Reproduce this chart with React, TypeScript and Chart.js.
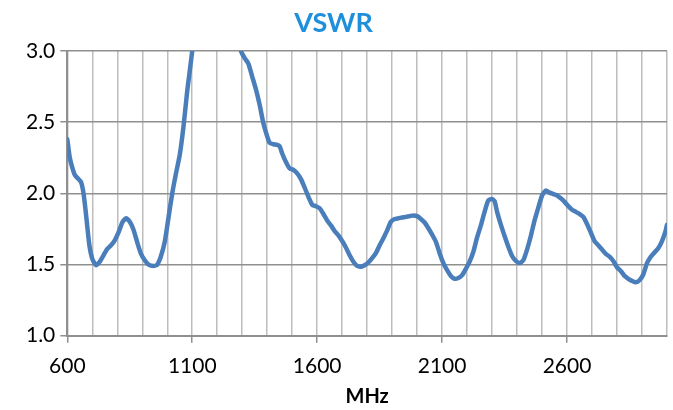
import React, { useEffect, useRef } from "react";
import { Chart, registerables } from "chart.js";

Chart.register(...registerables);

const titleText = "VSWR";
const xTitle = "MHz";
const yTicks = [1.0, 1.5, 2.0, 2.5, 3.0];
const xLabelValues = [600, 1100, 1600, 2100, 2600];

const freqMHz = [
  600, 610, 620, 630, 645, 655, 665, 675, 688, 700, 715, 730, 745, 760, 775, 790, 805, 820, 835, 850,
  865, 880, 895, 910, 925, 945, 960, 975, 990, 1005, 1020, 1035, 1050, 1065, 1080, 1100, 1130, 1170,
  1200, 1240, 1270, 1285, 1295, 1310, 1325, 1340, 1355, 1370, 1385, 1400, 1410, 1425, 1440, 1450,
  1460, 1475, 1490, 1505, 1520, 1535, 1550, 1565, 1580, 1595, 1610, 1625, 1640, 1655, 1670, 1685,
  1700, 1715, 1730, 1745, 1760, 1775, 1790, 1805, 1820, 1835, 1850, 1865, 1880, 1895, 1910, 1925,
  1940, 1955, 1970, 1985, 2000, 2015, 2030, 2045, 2060, 2075, 2090, 2105, 2120, 2135, 2150, 2165,
  2180, 2195, 2210, 2225, 2240, 2255, 2270, 2285, 2300, 2310, 2320, 2335, 2350, 2365, 2380, 2395,
  2410, 2425, 2440, 2455, 2470, 2485, 2500, 2515, 2530, 2545, 2560, 2575, 2590, 2605, 2620, 2635,
  2650, 2665, 2680, 2695, 2710, 2725, 2740, 2755, 2770, 2785, 2800, 2815, 2830, 2845, 2860, 2875,
  2890, 2905, 2920, 2935, 2950, 2965, 2980, 2995, 3000,
];

const vswr = [
  2.38, 2.25, 2.18, 2.13, 2.1, 2.08, 2.0, 1.85, 1.64, 1.54, 1.495, 1.52, 1.565, 1.61, 1.635, 1.67, 1.725, 1.795, 1.825, 1.8,
  1.745, 1.655, 1.575, 1.53, 1.5, 1.49, 1.5, 1.56, 1.66, 1.83, 2.0, 2.14, 2.27, 2.47, 2.72, 3.0, 3.5, 3.9,
  4.0, 3.7, 3.3, 3.1, 3.0, 2.95, 2.91, 2.82, 2.73, 2.62, 2.49, 2.4, 2.355, 2.345, 2.34, 2.33,
  2.28, 2.22, 2.175, 2.165, 2.14, 2.1, 2.04, 1.975, 1.92, 1.91, 1.895, 1.855, 1.81, 1.775, 1.735, 1.705,
  1.665, 1.62, 1.565, 1.52, 1.49, 1.485, 1.495, 1.515, 1.545, 1.58, 1.635, 1.685, 1.74, 1.8, 1.82, 1.825,
  1.83, 1.835, 1.84, 1.845, 1.84, 1.82, 1.795, 1.755, 1.71, 1.66, 1.58, 1.51, 1.46, 1.42, 1.4, 1.405,
  1.425, 1.47, 1.52, 1.59, 1.69, 1.775, 1.87, 1.95, 1.96, 1.945, 1.87, 1.78, 1.7, 1.625, 1.56, 1.525,
  1.51, 1.53, 1.605, 1.7, 1.81, 1.9, 1.985, 2.02, 2.005, 1.995, 1.985, 1.965, 1.94, 1.91, 1.885, 1.87,
  1.855, 1.835, 1.785, 1.725, 1.665, 1.635, 1.605, 1.575, 1.555, 1.525, 1.48, 1.455, 1.42, 1.4, 1.385, 1.375,
  1.39, 1.43, 1.51, 1.555, 1.585, 1.615, 1.665, 1.74, 1.78,
];

const FONT = "Lato, 'Open Sans', sans-serif";

export default function App() {
  const ref = useRef<HTMLCanvasElement | null>(null);

  useEffect(() => {
    if (!ref.current) return;
    const points = freqMHz.map((f, i) => ({ x: f, y: vswr[i] }));
    const chart = new Chart(ref.current, {
      type: "line",
      data: {
        datasets: [
          {
            data: points,
            borderColor: "#4a7ebb",
            borderWidth: 4.5,
            pointRadius: 0,
            tension: 0.2,
            clip: 0,
            borderJoinStyle: "round",
            borderCapStyle: "round",
          },
        ],
      },
      options: {
        animation: false,
        responsive: false,
        layout: { padding: { left: 0, right: 6, top: 0, bottom: 0 } },
        plugins: {
          legend: { display: false },
          tooltip: { enabled: false },
          title: {
            display: true,
            text: titleText,
            color: "#1f8fdb",
            font: { family: FONT, size: 27, weight: "bold", lineHeight: 1.2 },
            padding: { top: 7, bottom: 11.6 },
          },
        },
        scales: {
          x: {
            type: "linear",
            min: 600,
            max: 3000,
            afterFit: (s: any) => {
              s.height = 74.3;
              s.paddingRight = 0;
            },
            ticks: {
              stepSize: 100,
              autoSkip: false,
              maxRotation: 0,
              padding: 11,
              color: "#000",
              font: { family: FONT, size: 21 },
              callback: (v: any) => (xLabelValues.includes(Number(v)) ? String(v) : ""),
            },
            grid: {
              color: "#bdbdbd",
              lineWidth: 1.5,
              drawTicks: true,
              tickLength: 7,
              tickColor: (ctx: any) =>
                ctx.tick && xLabelValues.includes(ctx.tick.value) ? "#8f8f8f" : "rgba(0,0,0,0)",
              tickWidth: 1.5,
            },
            border: { color: "#8f8f8f", width: 2 },
            title: {
              display: true,
              text: xTitle,
              color: "#000",
              font: { family: FONT, size: 20, weight: "bold" },
              padding: { top: 0, bottom: 1 },
            },
          },
          y: {
            min: 1,
            max: 3,
            afterFit: (s: any) => {
              s.width = 67.3;
            },
            afterBuildTicks: (s: any) => {
              s.ticks = yTicks.map((v) => ({ value: v }));
            },
            ticks: {
              padding: 5,
              color: "#000",
              font: { family: FONT, size: 21 },
              callback: (v: any) => Number(v).toFixed(1),
            },
            grid: {
              color: "#8f8f8f",
              lineWidth: 1.5,
              tickLength: 7,
            },
            border: { color: "#8f8f8f", width: 2 },
          },
        },
      },
    });
    return () => chart.destroy();
  }, []);

  return (
    <div style={{ position: "fixed", left: 0, top: 0, width: 673, height: 410, background: "#fff" }}>
      <canvas ref={ref} width={673} height={410} />
    </div>
  );
}
